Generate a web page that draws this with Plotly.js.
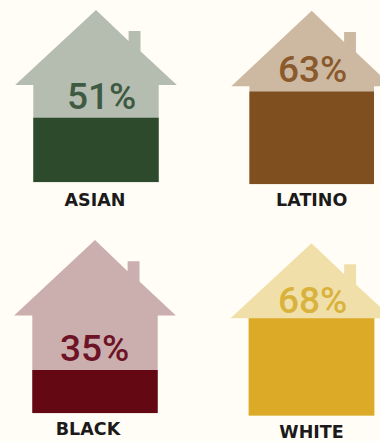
<!DOCTYPE html>
<html>
<head>
<meta charset="utf-8">
<script src="https://cdn.plot.ly/plotly-3.0.1.min.js"></script>
<style>html,body{margin:0;padding:0;background:#fffdf5;overflow:hidden}</style>
</head>
<body>
<div id="chart" style="width:380px;height:441px"></div>
<script>
// Homeownership rate by group, one house per group
const groups = ['ASIAN', 'LATINO', 'BLACK', 'WHITE'];
const rates = [51, 63, 35, 68];
const fillColors = ['#2d4a2c', '#7f4f20', '#640914', '#dcaa27'];
const roofColors = ['#b5bdb0', '#cdb9a2', '#cbaeae', '#f0dfa8'];
const rateColors = ['#3f5a42', '#8a5a2c', '#6d1325', '#d9b23c'];

// House silhouette: x in half body widths, y as a fraction of the house height
const houseX = [-1, -1, -1.29, 0, 0.52, 0.52, 0.71, 0.71, 1.29, 1, 1];
const houseY = [0, 0.565, 0.565, 1, 0.82, 0.878, 0.878, 0.76, 0.565, 0.565, 0];

const W = 380, H = 441;
// Placement of each house on the page, in pixels
const centers = [96, 311.7, 95, 311.5];
const halfBodies = [62.7, 62.3, 62.7, 62.8];
const apexTops = [10, 10.7, 240, 243.3];
const bottoms = [182.3, 184.3, 413.3, 415.7];
// Value axis height of each house
const axisTops = [136, 118, 140, 120.4];
const rateShiftX = [6, 1, 0, 1];
const rateShiftY = [-2, -1, -2, -6];
const labelShiftX = [-1, 0, -7, 0];
const labelGaps = [2, 0, 0, 0];

const traces = [];
const layout = {
  width: W, height: H, autosize: false,
  margin: {l: 0, r: 0, t: 0, b: 0},
  paper_bgcolor: '#fffdf5', plot_bgcolor: 'rgba(0,0,0,0)',
  showlegend: false, hovermode: false, annotations: [], shapes: []
};

groups.forEach((g, i) => {
  const suffix = i === 0 ? '' : String(i + 1);
  const xName = 'x' + suffix, yName = 'y' + suffix;
  const h = halfBodies[i], c = centers[i];
  const left = Math.max(0, c - 1.29 * h - 2);
  const right = Math.min(W, c + 1.29 * h + 2);

  // Silhouette behind the filled part
  const outline = houseX.map((x, k) =>
    (k === 0 ? 'M' : 'L') + x + ',' + houseY[k] * axisTops[i]).join(' ') + ' Z';
  layout.shapes.push({
    type: 'path', path: outline, xref: xName, yref: yName,
    fillcolor: roofColors[i], line: {width: 0}, layer: 'below'
  });
  // Filled part, up to the rate
  traces.push({
    type: 'bar', x: [0], y: [rates[i]], width: [2],
    marker: {color: fillColors[i], line: {width: 0}},
    xaxis: xName, yaxis: yName, hoverinfo: 'skip'
  });

  layout['xaxis' + suffix] = {
    domain: [left / W, right / W],
    range: [(left - c) / h, (right - c) / h],
    anchor: yName, fixedrange: true, showgrid: false, zeroline: false, showline: false,
    tickmode: 'array', tickvals: [labelShiftX[i] / h], ticktext: [g],
    ticks: 'outside', ticklen: labelGaps[i], tickcolor: 'rgba(0,0,0,0)',
    tickfont: {family: '"DejaVu Sans", sans-serif', size: 17.5, color: '#1c1a1a', weight: 700}
  };
  layout['yaxis' + suffix] = {
    domain: [1 - bottoms[i] / H, 1 - apexTops[i] / H],
    range: [0, axisTops[i]],
    anchor: xName, fixedrange: true, showgrid: false, zeroline: false, showline: false,
    showticklabels: false, ticks: ''
  };
  layout.annotations.push({
    xref: xName, yref: yName, x: 0, y: rates[i],
    text: rates[i] + '%', showarrow: false,
    xanchor: 'center', yanchor: 'bottom',
    xshift: rateShiftX[i], yshift: rateShiftY[i],
    font: {family: 'Roboto, sans-serif', size: 37, color: rateColors[i], weight: 500}
  });
});

Plotly.newPlot('chart', traces, layout, {displayModeBar: false, staticPlot: true});
</script>
</body>
</html>
